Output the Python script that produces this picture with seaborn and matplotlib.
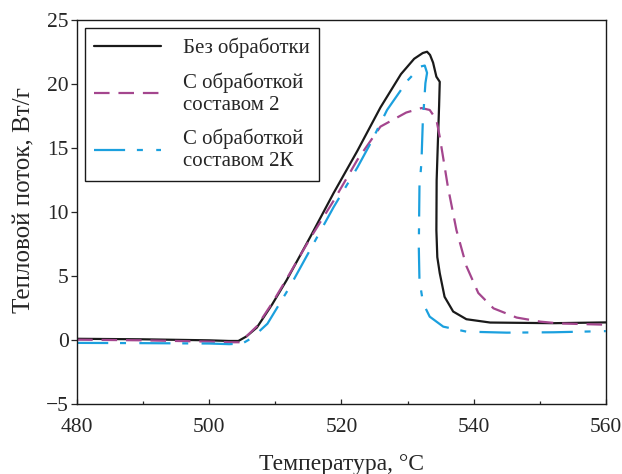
import matplotlib
matplotlib.use('Agg')
import matplotlib.pyplot as plt
import seaborn as sns
import pandas as pd
from matplotlib.ticker import MultipleLocator

# Heat flow curves
LABELS = ['Без обработки', 'С обработкой\nсоставом 2', 'С обработкой\nсоставом 2К']
COLORS = ['#1a1a1a', '#a4468e', '#1ba0de']

# Без обработки
x_none = [480, 490, 500, 503, 504.4, 505.6, 507.2, 509.5, 511.7, 515.3, 518.8, 522.4,
          525.9, 529.0, 531.0, 532.3, 532.95, 533.4, 533.86, 534.36, 534.87, 534.77,
          534.6, 534.4, 534.36, 534.5, 534.87, 535.6, 536.9, 538.9, 542.5, 552.1, 560]
y_none = [0.12, 0.08, 0.0, -0.05, -0.05, 0.3, 1.0, 2.8, 4.7, 8.1, 11.5, 14.8,
          18.2, 20.8, 22.0, 22.45, 22.55, 22.3, 21.7, 20.6, 20.2, 18.3,
          15.7, 12.5, 8.6, 6.5, 5.25, 3.4, 2.25, 1.65, 1.39, 1.34, 1.4]

# С обработкой составом 2
x_s2 = [480, 490, 500, 503, 504.5, 505.6, 507.2, 509.5, 511.7, 515.3, 518.8, 522.4,
        525.9, 529.8, 532.1, 533.35, 534.36, 534.87, 535.6, 536.1, 537.4, 538.9,
        540.7, 543.0, 546.5, 550.1, 553.0, 560]
y_s2 = [0.05, 0.0, -0.1, -0.15, -0.15, 0.3, 1.1, 2.9, 4.8, 8.0, 10.9, 14.1,
        16.7, 17.8, 18.15, 18.0, 17.25, 15.9, 13.6, 12.0, 8.6, 5.8,
        3.7, 2.5, 1.78, 1.46, 1.32, 1.22]

# С обработкой составом 2К
x_s2k = [480, 490, 500, 503, 505.0, 506.5, 508.8, 512.2, 515.5, 518.8, 522.4, 524.4,
         526.9, 530.0, 531.1, 532.0, 532.6, 532.95, 532.7, 532.3, 532.1, 531.8,
         531.7, 531.8, 532.35, 533.35, 535.4, 538.9, 545.0, 552.1, 560]
y_s2k = [-0.2, -0.22, -0.25, -0.3, -0.25, 0.2, 1.3, 4.2, 7.3, 10.4, 13.5, 15.4,
         18.0, 20.3, 20.9, 21.4, 21.47, 20.9, 20.1, 17.0, 13.9, 12.0,
         7.3, 4.7, 2.9, 1.85, 1.07, 0.68, 0.6, 0.63, 0.72]

sns.set_style('ticks')
plt.rcParams['font.family'] = ['Liberation Serif', 'DejaVu Serif']

fig = plt.figure(figsize=(6.22, 4.74), dpi=100)
ax = fig.add_axes([0.124, 0.147, 0.850, 0.810])

series = [(x_none, y_none), (x_s2, y_s2), (x_s2k, y_s2k)]
dash_styles = [None, (7, 4), (14, 5.3, 2.7, 6)]
for (xs, ys), lab, col, ds in zip(series, LABELS, COLORS, dash_styles):
    d = pd.DataFrame({'t': xs, 'q': ys})
    sns.lineplot(data=d, x='t', y='q', sort=False, estimator=None,
                 color=col, linewidth=1.6, label=lab, ax=ax)
    if ds is not None:
        ax.get_lines()[-1].set_dashes(ds)

ax.set_xlim(480, 560)
ax.set_ylim(-5, 25)
ax.xaxis.set_major_locator(MultipleLocator(20))
ax.xaxis.set_minor_locator(MultipleLocator(10))
ax.set_yticks([-5, 0, 5, 10, 15, 20, 25])
ax.set_yticklabels(['\u22125', '0', '5', '10', '15', '20', '25'])

ax.tick_params(axis='x', which='major', direction='in', length=3.5, width=0.9, labelsize=15.5, pad=10)
ax.tick_params(axis='x', which='minor', direction='in', length=2.5, width=0.9)
ax.tick_params(axis='y', which='major', direction='out', length=4, width=0.9, labelsize=15.5, pad=2)
for s in ax.spines.values():
    s.set_visible(True)
    s.set_linewidth(1.0)
    s.set_color('#1a1a1a')

ax.set_xlabel('Температура, °C', fontsize=17, labelpad=12)
ax.set_ylabel('Тепловой поток, Вт/г', fontsize=18)
ax.yaxis.set_label_coords(-0.078, 0.533)

leg = ax.legend(loc='upper left', bbox_to_anchor=(0.0146, 0.980), borderaxespad=0,
                fontsize=15, frameon=True, fancybox=False, framealpha=1,
                edgecolor='#1a1a1a', handlelength=3.2, handletextpad=1.06,
                borderpad=0.45, labelspacing=0.69)
leg.get_frame().set_linewidth(1.0)

fig.savefig('out.png', dpi=100)
